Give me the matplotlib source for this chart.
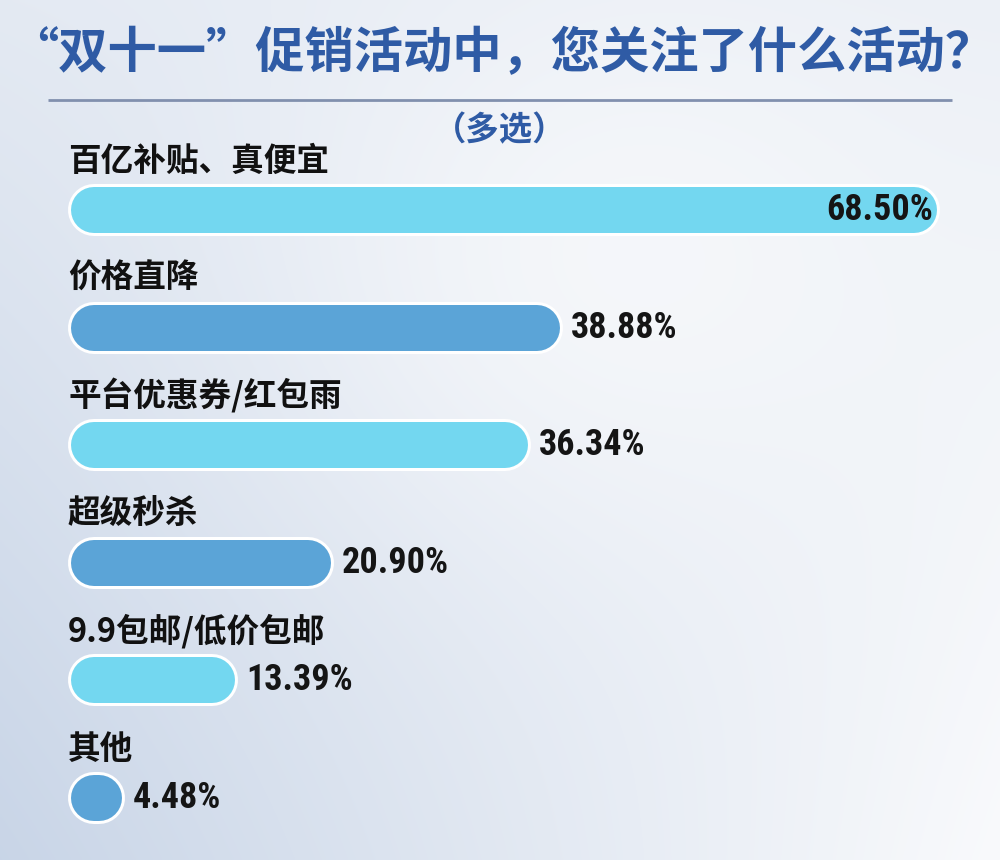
import numpy as np
import matplotlib
matplotlib.use("Agg")
import matplotlib.pyplot as plt
from matplotlib import font_manager as fm
from matplotlib.colors import to_rgb

# ---------------- data ----------------
title = "“双十一”促销活动中，您关注了什么活动？"
subtitle = "（多选）"
categories = ["百亿补贴、真便宜", "价格直降", "平台优惠券/红包雨", "超级秒杀",
              "9.9包邮/低价包邮", "其他"]
values = [68.50, 38.88, 36.34, 20.90, 13.39, 4.48]
value_labels = ["68.50%", "38.88%", "36.34%", "20.90%", "13.39%", "4.48%"]
bar_colors = ["#73D7F0", "#5BA4D7", "#73D7F0", "#5BA4D7", "#73D7F0", "#5BA4D7"]

# ---------------- fonts ----------------
avail = {f.name for f in fm.fontManager.ttflist}
num_font = next((f for f in ["Roboto Condensed", "Liberation Sans Narrow", "Roboto", "DejaVu Sans"]
                 if f in avail), "DejaVu Sans")
cjk = ["Noto Sans CJK SC", "DejaVu Sans"]
plt.rcParams["font.family"] = cjk

W, H = 1000, 860
fig = plt.figure(figsize=(W / 100, H / 100), dpi=100)

# ---------------- background ----------------
bg = fig.add_axes([0, 0, 1, 1])
bg.set_xlim(0, W)
bg.set_ylim(H, 0)
bg.axis("off")
u = np.linspace(0, 1, 400)[None, :]
v = np.linspace(0, 1, 344)[:, None]
tl, tr, bl, br = 0.42, 0.28, 0.95, 0.0
w = tl * (1 - u) * (1 - v) + tr * u * (1 - v) + bl * (1 - u) * v + br * u * v
w = w * (1 - 0.75 * np.exp(-(((u - 0.62) ** 2) / 0.12 + ((v - 0.3) ** 2) / 0.12)))
w = np.clip(w, 0, 1)[..., None]
c0 = np.array(to_rgb("#F9FAFC"))
c1 = np.array(to_rgb("#C6D3E6"))
img = c0 * (1 - w) + c1 * w
bg.imshow(img, extent=[0, W, H, 0], aspect="auto", zorder=0, interpolation="bilinear")

# title, rule, subtitle
bg.text(W / 2 + 2, 54, title, ha="center", va="center", fontsize=35.5, fontweight="bold",
        color="#2F5BA5", family=cjk)
bg.plot([48, 952], [100, 100], color="#8190AE", lw=2.0, solid_capstyle="butt")
bg.text(W / 2, 131, subtitle, ha="center", va="center", fontsize=24, fontweight="bold",
        color="#2F5BA5", family=cjk)

# ---------------- bars ----------------
x0_px = 68
px_per_pct = 12.73
y0_px = 210
step_px = 117.6
ax = fig.add_axes([x0_px / W, 0, 1 - x0_px / W, 1])
ax.set_xlim(0, (W - x0_px) / px_per_pct)
ax.set_ylim((H - y0_px) / step_px, -y0_px / step_px)
ax.axis("off")
ax.patch.set_alpha(0)

bar_h_px = 46
outline_px = 3
r_pct = (bar_h_px / 2 + outline_px) / px_per_pct
lw_inner = bar_h_px * 72 / 100
lw_outer = (bar_h_px + 2 * outline_px) * 72 / 100

for i, (cat, val, lab, col) in enumerate(zip(categories, values, value_labels, bar_colors)):
    xs = [r_pct, max(val - r_pct, r_pct + 0.01)]
    ax.plot(xs, [i, i], color="white", lw=lw_outer, solid_capstyle="round", zorder=2)
    ax.plot(xs, [i, i], color=col, lw=lw_inner, solid_capstyle="round", zorder=3)
    # category label above bar
    ax.annotate(cat, xy=(0, i), xytext=(0, 49 * 0.72), textcoords="offset points",
                ha="left", va="center", fontsize=23.5, fontweight="bold", color="#111111",
                family=cjk, zorder=4)
    # value label
    if i == 0:
        ax.annotate(lab, xy=(val, i), xytext=(-7 * 0.72, 0), textcoords="offset points",
                    ha="right", va="center", fontsize=26, fontweight="bold",
                    color="#151515", family=num_font, zorder=4)
    else:
        ax.annotate(lab, xy=(val, i), xytext=(8 * 0.72, 0), textcoords="offset points",
                    ha="left", va="center", fontsize=26, fontweight="bold",
                    color="#151515", family=num_font, zorder=4)

fig.savefig("out.png", dpi=100)
